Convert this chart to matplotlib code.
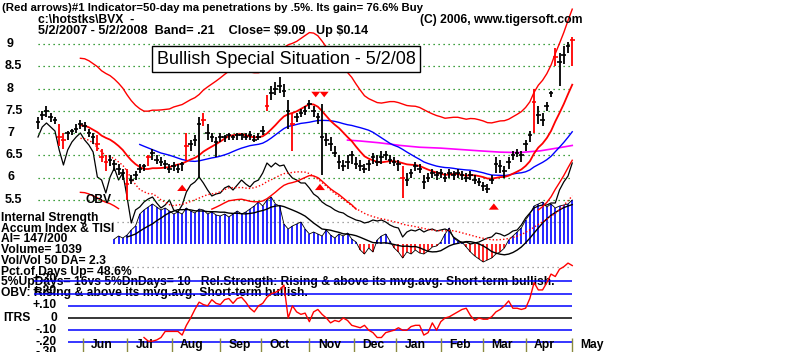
import numpy as np
import pandas as pd
import matplotlib.pyplot as plt
from matplotlib.patches import FancyArrowPatch

plt.rcParams['font.family'] = ['Liberation Sans', 'DejaVu Sans']

# --- BVX daily data 5/2/2007 - 5/2/2008, one bar every 2 trading days ---
bar_days = np.arange(0, 254, 2)
closes = [7.25, 7.4, 7.5, 7.35, 7.3, 6.9, 6.85, 7.0, 7.05, 7.1,
          7.2, 7.15, 7.0, 6.9, 6.75, 6.45, 6.35, 6.4, 6.3, 6.2,
          6.1, 5.85, 5.95, 6.05, 6.2, 6.25, 6.45, 6.55, 6.4, 6.35,
          6.3, 6.2, 6.25, 6.2, 6.3, 6.7, 6.75, 6.85, 7.2, 7.3,
          7.0, 6.9, 6.8, 6.9, 6.9, 6.95, 6.9, 6.95, 6.95, 6.9,
          6.95, 6.85, 6.9, 7.05, 7.6, 7.9, 8.0, 8.05, 7.95, 7.5,
          7.2, 7.35, 7.45, 7.5, 7.65, 7.5, 7.35, 6.9, 6.85, 6.75,
          6.55, 6.35, 6.25, 6.35, 6.5, 6.3, 6.25, 6.2, 6.3, 6.45,
          6.35, 6.45, 6.5, 6.4, 6.35, 6.3, 6.0, 5.95, 6.1, 6.25,
          6.2, 5.9, 6.0, 6.1, 6.05, 6.1, 6.0, 6.1, 6.05, 6.1,
          6.05, 6.0, 6.05, 5.95, 5.9, 5.8, 5.75, 5.95, 6.3, 6.25,
          6.15, 6.35, 6.5, 6.55, 6.5, 6.75, 6.95, 7.7, 7.4, 7.3,
          7.6, 7.9, 8.7, 8.6, 8.75, 8.95, 9.09]
highs = [7.35, 7.5, 7.6, 7.45, 7.35, 7.2, 7.0, 7.05, 7.1, 7.2,
         7.3, 7.25, 7.1, 7.0, 6.95, 6.65, 6.5, 6.5, 6.4, 6.3,
         6.2, 6.2, 6.05, 6.15, 6.3, 6.3, 6.5, 6.65, 6.5, 6.45,
         6.4, 6.3, 6.35, 6.3, 6.35, 7.0, 6.85, 6.95, 7.35, 7.45,
         7.2, 7.0, 6.9, 7.0, 6.95, 7.0, 6.95, 7.0, 7.0, 7.0,
         7.05, 6.95, 7.0, 7.15, 7.85, 8.05, 8.15, 8.25, 8.1, 7.75,
         7.45, 7.45, 7.55, 7.6, 7.75, 7.6, 7.45, 7.65, 7.0, 6.9,
         6.7, 6.5, 6.4, 6.5, 6.6, 6.45, 6.4, 6.3, 6.4, 6.55,
         6.5, 6.6, 6.6, 6.5, 6.45, 6.4, 6.25, 6.1, 6.2, 6.35,
         6.3, 6.05, 6.1, 6.2, 6.15, 6.2, 6.1, 6.2, 6.15, 6.2,
         6.15, 6.1, 6.15, 6.05, 6.0, 5.9, 5.85, 6.05, 6.45, 6.4,
         6.25, 6.45, 6.6, 6.65, 6.6, 6.85, 7.05, 8.0, 7.6, 7.45,
         7.7, 7.95, 8.9, 8.8, 8.95, 9.05, 9.15]
lows = [7.1, 7.3, 7.35, 7.25, 7.2, 6.7, 6.65, 6.85, 6.95, 7.0,
        7.1, 7.05, 6.9, 6.75, 6.6, 6.35, 6.15, 6.25, 6.15, 6.05,
        5.95, 5.5, 5.85, 5.95, 6.1, 6.15, 6.25, 6.4, 6.3, 6.25,
        6.2, 6.1, 6.15, 6.1, 6.15, 6.4, 6.6, 6.7, 6.0, 7.15,
        6.85, 6.8, 6.45, 6.8, 6.8, 6.85, 6.85, 6.85, 6.85, 6.85,
        6.85, 6.8, 6.85, 6.95, 7.5, 7.75, 7.85, 7.9, 7.8, 7.1,
        6.6, 7.25, 7.35, 7.4, 7.55, 7.35, 7.2, 6.05, 6.7, 6.6,
        6.45, 6.2, 6.15, 6.2, 6.3, 6.2, 6.15, 6.1, 6.15, 6.3,
        6.25, 6.3, 6.4, 6.3, 6.25, 6.15, 5.55, 5.8, 6.0, 6.15,
        6.1, 5.75, 5.9, 6.0, 5.95, 6.0, 5.9, 6.0, 5.95, 6.0,
        5.95, 5.9, 5.95, 5.85, 5.8, 5.7, 5.65, 5.85, 6.1, 6.1,
        6.0, 6.2, 6.4, 6.45, 6.35, 6.6, 6.8, 7.0, 7.2, 7.15,
        7.5, 7.8, 8.5, 8.05, 8.55, 8.8, 8.5]
red_bars = [5, 6, 14, 15, 16, 21, 26, 35, 39, 54, 60, 86, 117, 122, 126]

# On-balance volume (arbitrary units)
obv = [107, 117, 121, 117, 113, 94, 79, 94, 102, 107,
       111, 104, 99, 92, 67, 64, 51, 67, 76, 64,
       71, 47, 21, 34, 37, 42, 45, 47, 41, 36,
       39, 44, 34, 32, 39, 52, 59, 62, 67, 61,
       54, 48, 50, 51, 56, 58, 54, 59, 64, 60,
       57, 62, 64, 71, 81, 77, 81, 78, 79, 71,
       66, 64, 61, 61, 56, 50, 47, 42, 39, 37,
       34, 32, 31, 28, 26, 24, 23, 21, 22, 24,
       23, 24, 22, 19, 17, 16, 7, 12, 14, 13,
       15, 12, 14, 15, 13, 14, 15, 13, 7, 4,
       1, 2, 0, 1, 2, 4, 6, 7, 11, 10,
       8, 10, 13, 14, 19, 26, 31, 36, 38, 39,
       39, 41, 41, 54, 62, 68, 81]

# Accumulation Index histogram (same units)
ai = [np.nan] * 18 + [
    5, 8, 6, 9,
    14, 18, 30, 34, 37, 40, 37, 34,
    36, 33, 30, 32, 30, 36, 33, 31, 35, 34,
    30, 32, 29, 28, 30, 27, 30, 33, 30, 32,
    35, 38, 42, 38, 44, 47, 40, 38, 20, 15,
    18, 20, 22, 15, 10, 12, 10, 8, 14, 9,
    6, 10, 8, 11, 5, 2, -6, -10, -4, -8,
    4, 8, 10, 3, -4, -8, -14, -8, -10, -6,
    -9, -10, -7, -3, -2, 2, 10, 16, 6, 3,
    2, -3, -8, -12, -15, -18, -16, -14, -10, -8,
    -4, 4, 8, 12, 16, 24, 30, 38, 40, 42,
    37, 40, 36, 38, 39, 40, 44]

# ITRS (intermediate-term relative strength)
itrs_days = np.arange(50, 254, 2)
itrs = [-0.16, -0.19, -0.19, -0.18, -0.16,
        -0.11, -0.11, -0.11, -0.11, -0.14, -0.06, 0.0, 0.07, 0.13, 0.11,
        0.10, 0.15, 0.12, 0.11, 0.15, 0.16, 0.12, 0.16, 0.17, 0.13,
        0.08, 0.05, 0.10, 0.12, 0.17, 0.20, 0.21, 0.23, 0.27, 0.0,
        0.10, 0.05, 0.03, 0.04, -0.03, 0.05, 0.07, 0.03, 0.0, -0.04,
        -0.02, -0.03, 0.0, -0.02, -0.06, -0.07, -0.08, -0.06, -0.10, -0.12,
        -0.16, -0.16, -0.12, -0.11, -0.10, -0.08, -0.10, -0.10, -0.07, -0.06,
        -0.06, -0.14, -0.12, -0.04, -0.10, -0.03, 0.0, 0.01, 0.03, 0.05,
        0.07, 0.08, 0.02, -0.02, 0.0, -0.01, -0.01, 0.01, 0.05, 0.07,
        0.10, 0.14, 0.08, 0.08, 0.07, 0.08, 0.16, 0.29, 0.23, 0.23,
        0.29, 0.36, 0.34, 0.40, 0.42, 0.45, 0.43]

# long-term moving average (magenta)
mag_days = [146, 152, 161, 171, 180, 190, 199, 208, 218, 227, 237, 246, 252]
mag_vals = [6.84, 6.82, 6.78, 6.72, 6.68, 6.66, 6.63, 6.6, 6.57, 6.56, 6.6, 6.67, 6.72]

buy_days = [68, 133, 215]
buy_prices = [5.9, 5.92, 5.48]
sell_days = [131, 135]
sell_prices = [7.74, 7.74]

month_days = [21, 42, 63, 86, 105, 128, 149, 169, 190, 210, 230, 252]
month_names = ['Jun', 'Jul', 'Aug', 'Sep', 'Oct', 'Nov', 'Dec', 'Jan', 'Feb', 'Mar', 'Apr', 'May']
price_levels = [9, 8.5, 8, 7.5, 7, 6.5, 6, 5.5]
price_labels = ['9', '8.5', '8', '7.5', '7', '6.5', '6', '5.5']
itrs_levels = [0.3, 0.2, 0.1, -0.1, -0.2]

# --- figure: three transparent layers sharing the same day axis ---
W, H = 800, 352
fig = plt.figure(figsize=(8, 3.52), dpi=100)
fig.patch.set_facecolor('white')


def layer(ylim, z):
    ax = fig.add_axes([0, 0, 1, 1], zorder=z)
    ax.set_xlim(-38 / 2.12, (W - 38) / 2.12)
    ax.set_ylim(*ylim)
    ax.axis('off')
    return ax


ax_i = layer((-108, 244), 1)                            # indicators
ax_p = layer((9 - 308 / 44.5, 9 + 44 / 44.5), 2)        # price
ax_r = layer((-34 / 122, 318 / 122), 3)                 # ITRS


def ftxt(x, y, s, **kw):
    kw.setdefault('fontsize', 8.7)
    kw.setdefault('fontweight', 'bold')
    fig.text(x / W, 1 - y / H, s, va='center', parse_math=False, **kw)


# price panel
ax_p.hlines(price_levels, 0, 252, colors='#008000', lw=0.9, linestyles=(0, (1, 3)))
c = pd.Series(closes, index=bar_days)
ma21 = c.rolling(11).mean()
ma50 = c.rolling(25).mean()
upper = ma21 * 1.21
lower = ma21 * 0.79
lower = lower.where(lower > 5.25)
ax_p.plot(bar_days, upper, color='red', lw=1)
ax_p.plot(bar_days, lower, color='red', lw=1)
ax_p.plot(mag_days, mag_vals, color='#ff00ff', lw=1.2)
ax_p.plot(bar_days, ma50, color='blue', lw=1)
ax_p.plot(bar_days, ma21, color='red', lw=1.3)

cols = ['red' if k in red_bars else 'black' for k in range(len(bar_days))]
ax_p.vlines(bar_days, lows, highs, colors=cols, lw=1.3)
ax_p.hlines(closes, bar_days - 1.1, bar_days + 1.1, colors=cols, lw=1.2)

astyle = 'simple,head_width=0.8,head_length=0.5,tail_width=0.4'
for d, p in zip(buy_days, buy_prices):
    ax_p.add_patch(FancyArrowPatch((d, p - 0.22), (d, p), color='red', lw=0,
                                   arrowstyle=astyle, mutation_scale=9))
for d, p in zip(sell_days, sell_prices):
    ax_p.add_patch(FancyArrowPatch((d, p + 0.18), (d, p), color='red', lw=0,
                                   arrowstyle=astyle, mutation_scale=8))

# indicator panel: AI histogram, TISI, OBV
ax_i.hlines([22, -23], 35, 252, colors='#888888', lw=0.9, linestyles=(0, (1, 3)))
ai_s = pd.Series(ai, index=bar_days)
ai_cols = ['blue' if v >= 0 else 'red' for v in ai_s.fillna(0)]
ax_i.vlines(bar_days, 0, ai_s.fillna(0), colors=ai_cols, lw=1.2)
ax_i.plot(bar_days, ai_s, color='black', lw=0.6)
ax_i.plot(bar_days, ai_s.rolling(10, min_periods=4).mean(), color='black', lw=1)
obv_s = pd.Series(obv, index=bar_days)
ax_i.plot(bar_days, obv_s, color='black', lw=0.9)
ax_i.plot(bar_days, obv_s.rolling(11).mean(), color='red', lw=1, linestyle=(0, (1, 1.5)))

# ITRS panel
ax_r.hlines(itrs_levels[:2], -2, 252, colors='blue', lw=1.1, zorder=4)
ax_r.hlines(itrs_levels[2:], 14, 252, colors='blue', lw=1.1, zorder=4)
ax_r.hlines(0, 14, 252, colors='black', lw=1.1, zorder=4)
ax_r.plot(itrs_days, itrs, color='red', lw=1, zorder=5)
ax_r.vlines(month_days, -0.28, -0.165, colors='#8a8a40', lw=1, zorder=4)
for d, m in zip(month_days, month_names):
    ax_r.text(d + 4, -0.222, m, fontsize=8.7, fontweight='bold', va='center', zorder=4)


def rtxt(x, y, s, **kw):
    ax_r.text(x / W, 1 - y / H, s, transform=fig.transFigure, va='center',
              fontsize=8.7, fontweight='bold', zorder=1, **kw)


rtxt(1, 282, '5%UpDays= 16vs 5%DnDays= 10   Rel.Strength: Rising & above its mvg.avg. Short-term bullish.')
rtxt(1, 293, 'OBV: Rising & above its mvg.avg. Short-term bullish.')
for y, s in zip([279, 291, 305, 318, 330, 342, 352], ['+.30', '+.20', '+.10', '0', '-.10', '-.20', '-.30']):
    rtxt(57, y, s, ha='right')
rtxt(3, 318, 'ITRS')

# header texts
ftxt(2, 8, '(Red arrows)#1 Indicator=50-day ma penetrations by .5%. Its gain= 76.6% Buy', fontsize=8.2)
ftxt(38, 20, 'c:\\hotstks\\BVX  -')
ftxt(420, 20, '(C) 2006, www.tigersoft.com')
ftxt(38, 31, '5/2/2007 - 5/2/2008  Band= .21    Close= $9.09   Up $0.14', fontsize=9.1)
fig.text(286 / W, 1 - 59 / H, 'Bullish Special Situation - 5/2/08', fontsize=13,
         ha='center', va='center',
         bbox=dict(boxstyle='square,pad=0.25', fc='white', ec='black', lw=1))

for p, s in zip(price_levels, price_labels):
    ftxt(5 if len(s) > 1 else 7, 44 + (9 - p) * 44.5, s, fontsize=9)
ftxt(85, 200, 'OBV')

left_lines = ['Internal Strength', 'Accum Index & TISI', 'AI= 147/200', 'Volume= 1039',
              'Vol/Vol 50 DA= 2.3', 'Pct.of Days Up= 48.6%']
for i, s in enumerate(left_lines):
    ftxt(1, 218 + i * 10.7, s)

fig.savefig('out.png', dpi=100)
